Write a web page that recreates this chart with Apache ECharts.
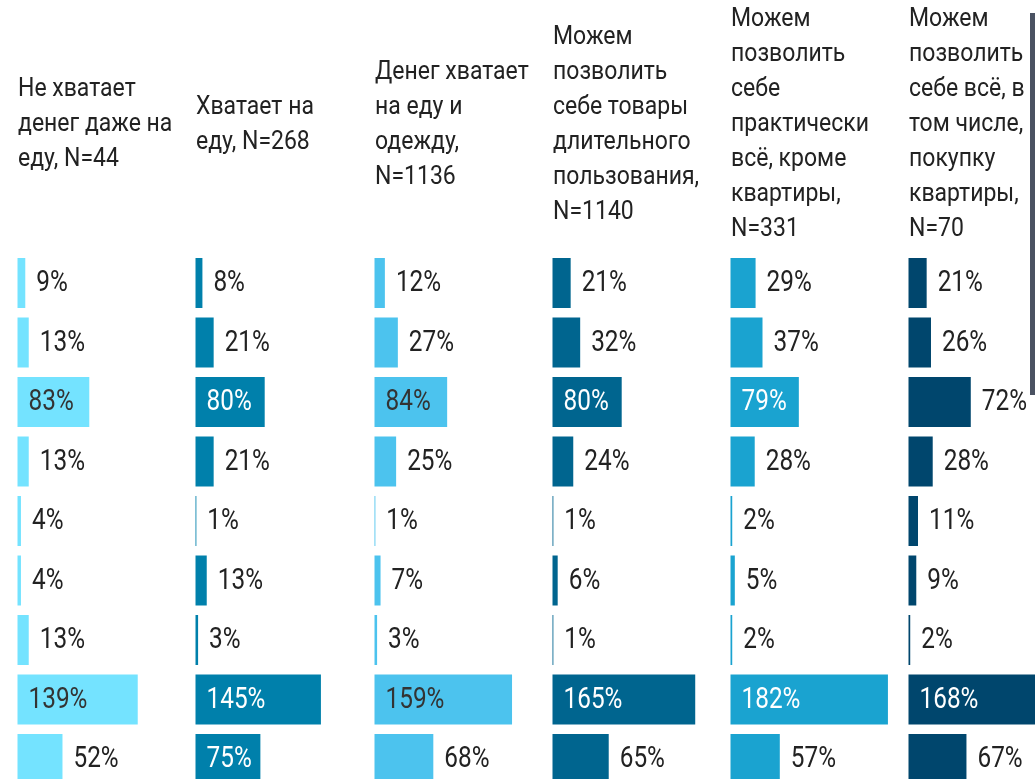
<!DOCTYPE html>
<html>
<head>
<meta charset="utf-8">
<script src="https://cdn.jsdelivr.net/npm/echarts@6/dist/echarts.min.js"></script>
<style>
  html, body { margin: 0; padding: 0; background: #fff; }
  #main { width: 1035px; height: 779px; }
</style>
</head>
<body>
<div id="main"></div>
<script>
// заголовки групп
const groups = [
  'Не хватает\nденег даже на\nеду, N=44',
  'Хватает на\nеду, N=268',
  'Денег хватает\nна еду и\nодежду,\nN=1136',
  'Можем\nпозволить\nсебе товары\nдлительного\nпользования,\nN=1140',
  'Можем\nпозволить\nсебе\nпрактически\nвсё, кроме\nквартиры,\nN=331',
  'Можем\nпозволить\nсебе всё, в\nтом числе,\nпокупку\nквартиры,\nN=70'
]

const rows = ['1', '2', '3', '4', '5', '6', '7', '8', '9']

const vals1 = [9, 13, 83, 13, 4, 4, 13, 139, 52]
const vals2 = [8, 21, 80, 21, 1, 13, 3, 145, 75]
const vals3 = [12, 27, 84, 25, 1, 7, 3, 159, 68]
const vals4 = [21, 32, 80, 24, 1, 6, 1, 165, 65]
const vals5 = [29, 37, 79, 28, 2, 5, 2, 182, 57]
const vals6 = [21, 26, 72, 28, 11, 9, 2, 168, 67]

const allVals = [vals1, vals2, vals3, vals4, vals5, vals6]

const colors = ['#74e3ff', '#0080ab', '#4cc3ee', '#00658f', '#1aa3d0', '#00466d']
const insideText = ['#333', '#fff', '#333', '#fff', '#fff', '#fff']

const FONT = 'Roboto, "Noto Sans", sans-serif'
const SQUEEZE = 0.84        // подписи: шрифт в оригинале узкий
const HEAD_SQUEEZE = 0.92   // заголовки
const colX = [17.5, 195.5, 374.5, 552.5, 730.5, 908.5]
const insideFrom = 75

let chart = echarts.init(document.getElementById('main'))

let grids = []
let xAxes = []
let yAxes = []
let series = []
let graphics = []

function labelRenderer(col) {
  return function (params, api) {
    let v = api.value(0)
    let row = api.value(1)
    let end = api.coord([v, row])
    let start = api.coord([0, row])
    let inside = v >= insideFrom
    return {
      type: 'text',
      x: inside ? start[0] + 11 : end[0] + 11,
      y: end[1] + 1,
      scaleX: SQUEEZE,
      style: {
        text: v + '%',
        font: '29px ' + FONT,
        fill: inside ? insideText[col] : '#222',
        verticalAlign: 'middle',
        align: 'left'
      }
    }
  }
}

for (let i = 0; i < 6; i++) {
  grids.push({ left: colX[i], top: 253.25, width: 173, height: 535.5, outerBoundsMode: 'none' })
  xAxes.push({ gridIndex: i, type: 'value', min: 0, max: 200, show: false })
  yAxes.push({ gridIndex: i, type: 'category', data: rows, inverse: true, show: false })

  series.push({
    type: 'bar',
    xAxisIndex: i,
    yAxisIndex: i,
    barWidth: 50,
    itemStyle: { color: colors[i] },
    silent: true,
    data: allVals[i]
  })

  series.push({
    type: 'custom',
    xAxisIndex: i,
    yAxisIndex: i,
    silent: true,
    z: 5,
    encode: { x: 0, y: 1 },
    renderItem: labelRenderer(i),
    data: allVals[i].map(function (v, k) { return [v, k] })
  })

  graphics.push({
    type: 'text',
    x: colX[i] + 0.5,
    y: 125,
    scaleX: HEAD_SQUEEZE,
    style: {
      text: groups[i],
      font: '25px ' + FONT,
      fill: '#222',
      lineHeight: 35,
      verticalAlign: 'middle'
    }
  })
}

// тёмная полоска у правого края (край фото)
graphics.push({
  type: 'rect',
  shape: { x: 1030, y: 13, width: 5, height: 382 },
  style: { fill: '#4a5262' }
})

option = {
  animation: false,
  grid: grids,
  xAxis: xAxes,
  yAxis: yAxes,
  series: series,
  graphic: graphics
}

chart.setOption(option)
</script>
</body>
</html>
